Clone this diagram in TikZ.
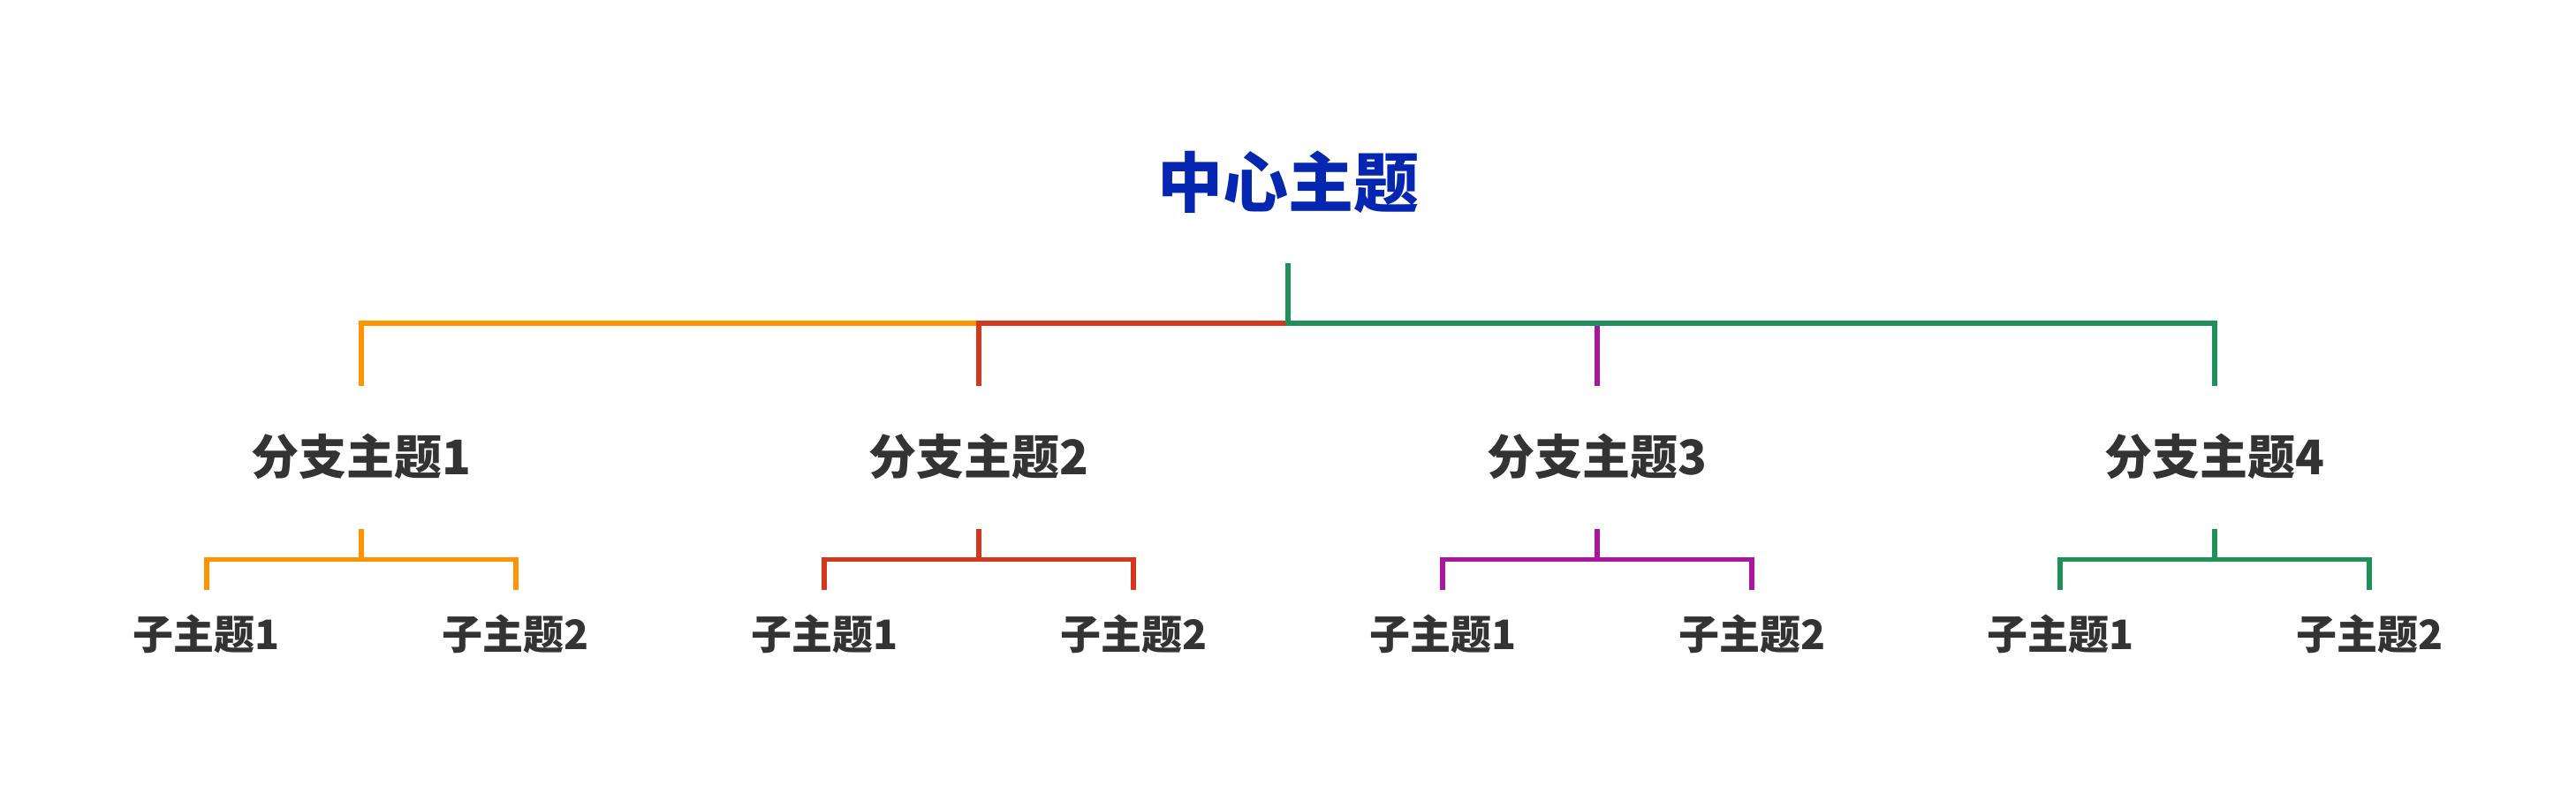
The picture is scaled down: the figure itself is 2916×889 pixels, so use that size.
\documentclass[tikz,border=0pt]{standalone}
\usepackage{fontspec}
\newfontfamily\cjk{Noto Sans CJK SC}
\usetikzlibrary{calc}
\definecolor{cOrange}{HTML}{FF9400}
\definecolor{cRed}{HTML}{D3381C}
\definecolor{cPurple}{HTML}{A9169F}
\definecolor{cGreen}{HTML}{1D9157}
\definecolor{cBlue}{HTML}{0426B0}
\definecolor{cText}{HTML}{333333}
\tikzset{
  txt/.style={inner sep=0pt, outer sep=0pt, anchor=center},
  central/.style={txt, font=\cjk\bfseries\fontsize{74pt}{80pt}\selectfont, text=cBlue, text height=61.4pt, text depth=5.2pt},
  branch/.style={txt, font=\cjk\bfseries\fontsize{54pt}{60pt}\selectfont, text=cText, text height=44.8pt, text depth=3.8pt},
  sub/.style={txt, font=\cjk\bfseries\fontsize{46pt}{52pt}\selectfont, text=cText, text height=38.2pt, text depth=3.2pt},
  conn/.style={line width=5.5pt, line cap=butt, line join=miter},
}
\begin{document}
\begin{tikzpicture}[x=1pt,y=1pt]
\useasboundingbox[fill=white] (0,0) rectangle (2916,889);
% nodes
\node[central] (c) at (1458,683) {中心主题};
\node[branch] (b1) at (409,372) {分支主题1};
\node[branch] (b2) at (1108,372) {分支主题2};
\node[branch] (b3) at (1808,372) {分支主题3};
\node[branch] (b4) at (2507,372) {分支主题4};
\foreach \i/\x in {1/409,2/1108,3/1808,4/2507}{
  \node[sub] (s\i a) at (\x-175,171) {子主题1};
  \node[sub] (s\i b) at (\x+175,171) {子主题2};
}
% bar level
\coordinate (bar) at (1458,523);
% main connectors
\draw[conn,cOrange] ([yshift=56pt]b1.north) |- (b2 |- bar);
\draw[conn,cRed] ([yshift=56pt]b2.north) |- (bar);
\draw[conn,cPurple] (b3 |- bar) -- ([yshift=56pt]b3.north);
\draw[conn,cGreen] ([yshift=-59pt]c.south) -- (bar) -| ([yshift=56pt]b4.north);
% sub connectors
\foreach \i/\col in {1/cOrange,2/cRed,3/cPurple,4/cGreen}{
  \coordinate (t\i) at ([yshift=-58pt]b\i.south);
  \draw[conn,\col] (t\i) -- ++(0,-34) coordinate (m\i);
  \draw[conn,\col] ([yshift=29pt]s\i a.north) |- (m\i) -| ([yshift=29pt]s\i b.north);
}
\end{tikzpicture}
\end{document}
